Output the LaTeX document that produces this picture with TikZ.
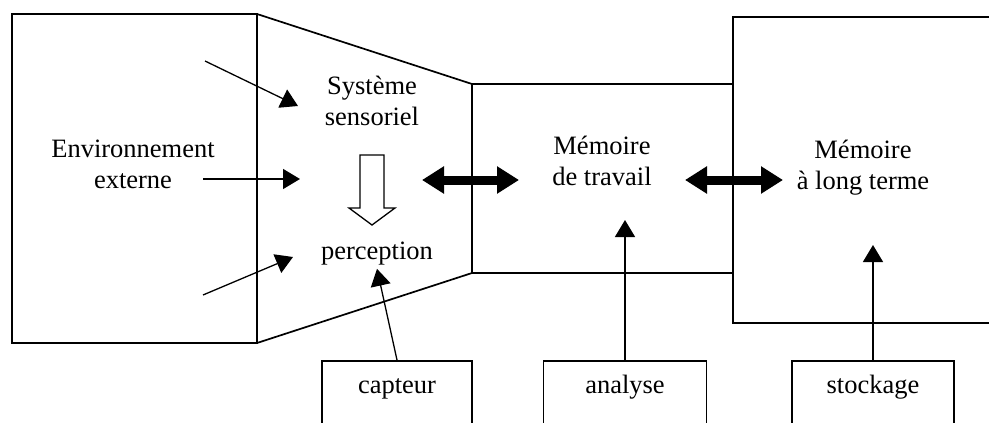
\documentclass[tikz,border=0pt]{standalone}
\usepackage{fontspec}
\setmainfont{Liberation Serif}
\usetikzlibrary{arrows.meta}

\begin{document}
\begin{tikzpicture}[x=1pt,y=-1pt,
  outline/.style={line width=1.7pt, line join=miter},
  txt/.style={align=center, font=\fontsize{26.5}{31}\selectfont, inner sep=0pt},
  feed/.style={line width=1.3pt, -{Triangle[length=17pt,width=20pt]}},
  exchange/.style={line width=9pt,
    {Triangle[length=22pt,width=26pt]}-{Triangle[length=22pt,width=26pt]}},
  source/.style={draw, line width=1.5pt, anchor=north, inner ysep=0pt,
    text height=33pt, text depth=70pt, font=\fontsize{26.5}{31}\selectfont}
]
\useasboundingbox (0,0) rectangle (989,423);
\clip (0,0) rectangle (989,423);

% external environment
\draw[outline] (12,14) rectangle (257,343);
% sensory system (trapezoid)
\draw[outline] (257,14) -- (472,84) -- (472,273) -- (257,343);
% working memory
\draw[outline] (472,84) -- (733,84);
\draw[outline] (472,273) -- (733,273);
% long-term memory
\draw[outline] (995,17) -- (733,17) -- (733,323) -- (995,323);

% labels
\node[txt] (env) at (133,164) {Environnement\\externe};
\node[txt] (sys) at (372,101) {Système\\sensoriel};
\node[txt, anchor=base] (perception) at (377,259) {perception};
\node[txt] (wm) at (602,161) {Mémoire\\de travail};
\node[txt] (ltm) at (863,168) {Mémoire\\à long terme};

% hollow arrow: sensation to perception
\draw[line width=1.3pt, line join=miter, fill=white]
  (360,155) -- (384,155) -- (384,208) -- (395,208) -- (372,225)
  -- (349,208) -- (360,208) -- cycle;

% stimuli entering the sensory system
\coordinate (e1) at (205,61);  \coordinate (t1) at (298,106);
\coordinate (e2) at (203,179); \coordinate (t2) at (300,179);
\coordinate (e3) at (203,295); \coordinate (t3) at (293,257);
\draw[feed] (e1) -- (t1);
\draw[feed] (e2) -- (t2);
\draw[feed] (e3) -- (t3);

% exchanges between stores
\coordinate (x1a) at (422,180); \coordinate (x1b) at (519,180);
\coordinate (x2a) at (685,180); \coordinate (x2b) at (783,180);
\draw[exchange] (x1a) -- (x1b);
\draw[exchange] (x2a) -- (x2b);

% processes below
\node[source, minimum width=150pt] (capteur) at (397,360) {capteur};
\node[source, minimum width=163pt] (analyse) at (625,360) {analyse};
\node[source, minimum width=162pt] (stockage) at (873,360) {stockage};

\coordinate (wmin) at (625,220);
\coordinate (ltin) at (873,245);
\draw[feed] (capteur.north) -- ([yshift=-4pt]perception.south);
\draw[feed] (analyse.north) -- (wmin);
\draw[feed] (stockage.north) -- (ltin);
\end{tikzpicture}
\end{document}
